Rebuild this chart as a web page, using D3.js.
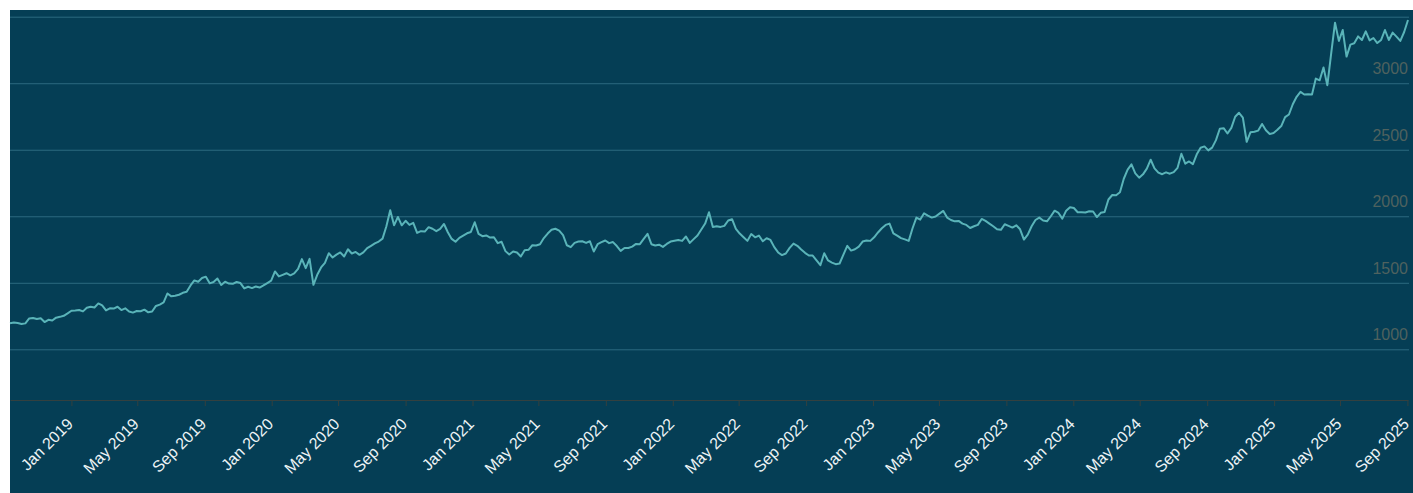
<!DOCTYPE html>
<html>
<head>
  <meta charset="utf-8">
  <title>Gold price</title>
  <script src="https://d3js.org/d3.v7.min.js"></script>
  <style>
    body { margin: 0; background: #fff; }

    .gridlines line {
      stroke: #2c6a80;
    }

    .gridlines .domain {
      stroke: none;
    }

    .x-axis .domain, .x-axis line {
      stroke: #34403f;
    }

    .x-axis text {
      fill: #eef4f6;
      font: 16px "Liberation Sans", Arial, sans-serif;
    }

    .y-labels text {
      fill: #4f625f;
      font: 16px "Liberation Sans", Arial, sans-serif;
    }
  </style>
</head>
<body>
<div id="chart"></div>
<script>
// weekly closes (one value per Tuesday), first one on 11 Sep 2018
const startDate = "2018-09-11";

const prices2018 = [1196, 1202, 1198, 1190, 1195, 1232, 1236, 1228, 1233, 1205, 1222, 1216, 1238, 1244, 1252, 1270];

const prices2019 = [1290, 1292, 1295, 1285, 1312, 1320, 1314, 1345, 1330, 1292,
                    1308, 1306, 1320, 1295, 1308, 1284, 1276, 1288, 1286, 1298,
                    1278, 1284, 1326, 1336, 1352, 1420, 1398, 1402, 1410, 1425,
                    1432, 1480, 1518, 1508, 1536, 1546, 1496, 1506, 1532, 1484,
                    1508, 1494, 1492, 1506, 1498, 1458, 1470, 1460, 1472, 1464,
                    1480, 1498, 1516];

const prices2020 = [1585, 1548, 1560, 1572, 1556, 1570, 1605, 1678, 1610, 1680,
                    1485, 1560, 1615, 1650, 1722, 1690, 1712, 1728, 1698, 1752,
                    1720, 1732, 1710, 1728, 1760, 1778, 1796, 1810, 1832, 1925,
                    2045, 1932, 1995, 1932, 1966, 1935, 1950, 1875, 1888, 1885,
                    1918, 1906, 1888, 1905, 1942, 1880, 1830, 1808, 1838, 1855,
                    1872, 1882];

const prices2021 = [1955, 1868, 1850, 1856, 1840, 1842, 1798, 1808, 1738, 1712,
                    1735, 1728, 1698, 1745, 1748, 1782, 1780, 1790, 1836, 1870,
                    1898, 1906, 1892, 1858, 1782, 1768, 1800, 1810, 1812, 1800,
                    1812, 1735, 1790, 1805, 1818, 1798, 1806, 1776, 1740, 1762,
                    1762, 1772, 1792, 1790, 1830, 1868, 1790, 1780, 1786, 1770,
                    1792, 1810];

const prices2022 = [1816, 1822, 1815, 1848, 1800, 1828, 1855, 1900, 1945, 2030,
                    1920, 1925, 1920, 1928, 1968, 1978, 1905, 1870, 1842, 1815,
                    1866, 1842, 1855, 1812, 1835, 1822, 1768, 1728, 1708, 1720,
                    1762, 1795, 1778, 1750, 1725, 1705, 1705, 1668, 1632, 1722,
                    1668, 1652, 1640, 1645, 1712, 1778, 1742, 1752, 1772, 1810,
                    1818, 1815];

const prices2023 = [1842, 1878, 1910, 1935, 1945, 1872, 1855, 1836, 1826, 1815,
                    1910, 1990, 1975, 2022, 2005, 1990, 1998, 2020, 2040, 1990,
                    1972, 1962, 1965, 1945, 1935, 1912, 1925, 1935, 1980, 1965,
                    1945, 1925, 1902, 1898, 1940, 1928, 1915, 1932, 1902, 1825,
                    1862, 1925, 1972, 1990, 1968, 1962, 2000, 2042, 2025, 1982,
                    2042, 2068];

const prices2024 = [2062, 2030, 2030, 2028, 2038, 2036, 1994, 2026, 2032, 2126,
                    2160, 2158, 2180, 2282, 2350, 2390, 2322, 2290, 2315, 2358,
                    2425, 2360, 2328, 2316, 2330, 2320, 2332, 2364, 2470, 2395,
                    2412, 2392, 2466, 2515, 2525, 2495, 2516, 2572, 2658, 2662,
                    2622, 2664, 2748, 2778, 2742, 2560, 2632, 2635, 2644, 2694,
                    2646, 2618, 2626];

const prices2025 = [2650, 2678, 2745, 2765, 2842, 2898, 2935, 2915, 2918, 2915,
                    3035, 3022, 3118, 2985, 3225, 3455, 3318, 3400, 3200, 3290,
                    3300, 3352, 3325, 3390, 3322, 3340, 3302, 3325, 3400, 3325,
                    3380, 3350, 3318, 3385, 3475];

const gridValues = [1000, 1500, 2000, 2500, 3000, 3500];
const labelValues = [1000, 1500, 2000, 2500, 3000];

const width = 1413;
const height = 493;

const allPrices = [].concat(prices2018, prices2019, prices2020, prices2021,
                            prices2022, prices2023, prices2024, prices2025);
const t0 = d3.timeParse("%Y-%m-%d")(startDate);
const data = allPrices.map((v, i) => ({ date: d3.timeWeek.offset(t0, i), value: v }));

const svg = d3.select("#chart")
  .append("svg")
  .attr("width", width)
  .attr("height", height)
  .style("display", "block");

// dark panel
svg.append("rect")
  .attr("x", 10)
  .attr("y", 10)
  .attr("width", width - 10)
  .attr("height", height - 10)
  .attr("fill", "#053e55");

const xScale = d3.scaleTime()
  .domain(d3.extent(data, d => d.date))
  .range([10, 1408]);

const yScale = d3.scaleLinear()
  .domain([619, 3500])
  .range([400, 16.7]);

// horizontal gridlines
const yGridlines = d3.axisLeft(yScale)
  .tickValues(gridValues)
  .tickSize(-(1409 - 10))
  .tickFormat("");

svg.append("g")
  .attr("class", "gridlines")
  .attr("transform", "translate(10,0)")
  .call(yGridlines);

// y labels sit right-aligned just above their gridline
svg.append("g")
  .attr("class", "y-labels")
  .selectAll("text")
  .data(labelValues)
  .join("text")
  .attr("x", 1408)
  .attr("y", d => yScale(d) - 9)
  .attr("text-anchor", "end")
  .text(d => d);

// x axis, every 4 months
const xAxis = d3.axisBottom(xScale)
  .ticks(d3.timeMonth.every(4))
  .tickFormat(d3.timeFormat("%b %Y"))
  .tickSize(6)
  .tickSizeOuter(0);

const xAxisGroup = svg.append("g")
  .attr("class", "x-axis")
  .attr("transform", "translate(0,400)")
  .call(xAxis);

xAxisGroup.selectAll("text")
  .attr("x", 0)
  .attr("y", 0)
  .attr("dy", null)
  .attr("text-anchor", "end")
  .attr("transform", "translate(2,25) rotate(-45)");

// price line
const line = d3.line()
  .x(d => xScale(d.date))
  .y(d => yScale(d.value));

svg.append("path")
  .datum(data)
  .attr("fill", "none")
  .attr("stroke", "#5ab4b9")
  .attr("stroke-width", 2)
  .attr("stroke-linejoin", "round")
  .attr("d", line);
</script>
</body>
</html>
